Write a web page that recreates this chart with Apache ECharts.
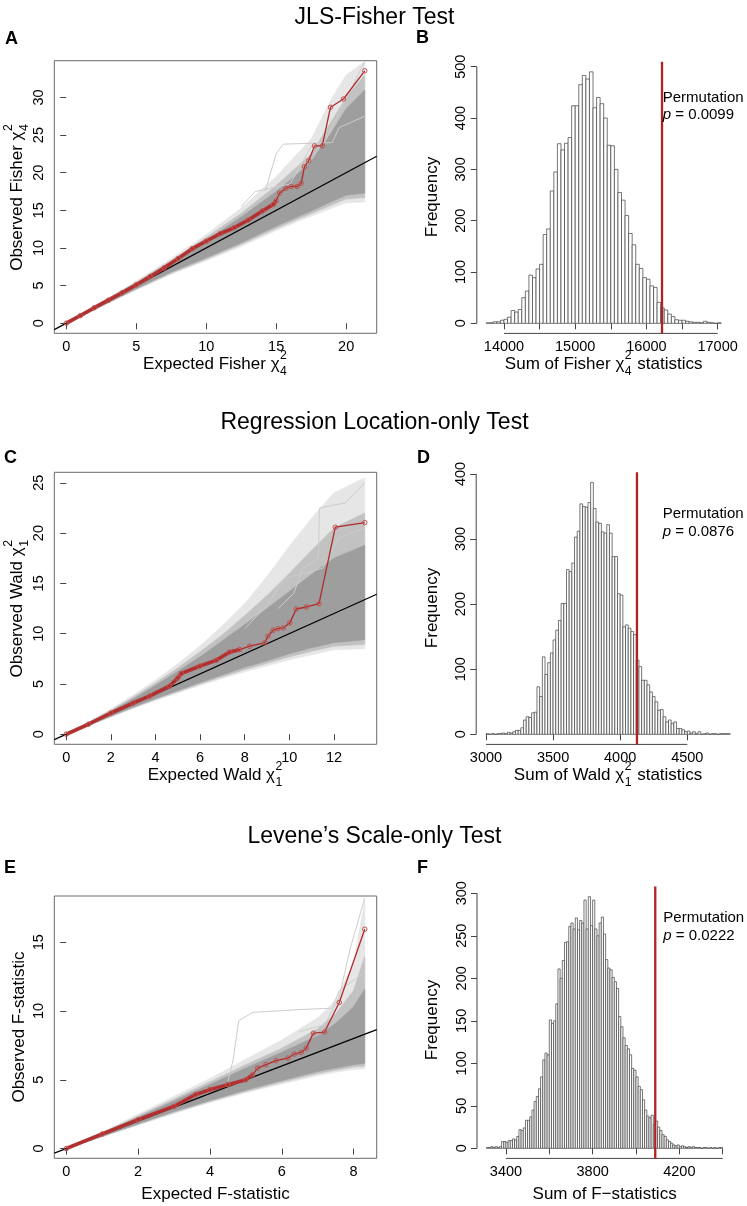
<!DOCTYPE html>
<html><head><meta charset="utf-8">
<script src="https://cdn.jsdelivr.net/npm/echarts@6/dist/echarts.min.js"></script>
<style>html,body{margin:0;padding:0;background:#fff}#c{width:747px;height:1206px}</style>
</head><body><div id="c"></div>
<script>
// ---------------- DATA ----------------
const titles = ['JLS-Fisher Test', 'Regression Location-only Test', 'Levene\u2019s Scale-only Test'];
const letters = ['A', 'B', 'C', 'D', 'E', 'F'];

// Panel A: observed QQ (red)
const qqA_x = [0, 1, 2, 3, 4, 5, 6, 7, 8, 9, 10, 11, 12, 13, 14, 14.8, 15.0, 15.25, 15.7, 16.07, 16.5, 16.79, 17.02, 17.33, 17.74, 18.29, 18.88, 19.81, 21.33];
const qqA_y = [0, 1.0, 2.05, 3.05, 4.05, 5.1, 6.2, 7.35, 8.6, 9.9, 10.9, 11.9, 12.7, 13.7, 14.9, 15.8, 16.3, 17.3, 17.94, 18.17, 18.17, 18.6, 20.8, 21.6, 23.57, 23.57, 28.7, 29.8, 33.55];
const qqA_denseN = 17;
// Panel A: permutation envelope (x, dense core, medium, outer)
const envA_x      = [0, 1, 2.5, 5, 7.5, 10, 12.5, 15, 16.5, 17.5, 19, 20, 21.33];
const envA_coreL  = [0, 0.9, 2.3, 4.6, 6.8, 8.7, 10.7, 12.9, 14.1, 14.9, 16.2, 17.0, 17.3];
const envA_coreH  = [0, 1.05, 2.65, 5.3, 8.1, 11.0, 14.1, 17.5, 19.8, 21.5, 25.5, 28.5, 31.0];
const envA_midL   = [0, 0.87, 2.25, 4.5, 6.65, 8.5, 10.45, 12.6, 13.8, 14.55, 15.75, 16.5, 16.7];
const envA_midH   = [0, 1.08, 2.72, 5.45, 8.35, 11.4, 14.6, 18.3, 20.8, 22.5, 27.0, 30.0, 33.0];
const envA_lightL = [0, 0.85, 2.2, 4.4, 6.5, 8.3, 10.2, 12.3, 13.5, 14.2, 15.3, 16.0, 16.1];
const envA_lightH = [0, 1.1, 2.8, 5.6, 8.6, 11.8, 15.3, 19.5, 22.5, 24.5, 30.0, 33.0, 34.8];
const strayA1_x = [14.2, 15, 15.5, 19, 19.5, 21.33];
const strayA1_y = [17.5, 22.5, 23.8, 24.0, 26, 27.5];
const strayA2_x = [12.5, 13.5, 16, 17.5, 18.5, 21.33];
const strayA2_y = [15.5, 17.5, 18.5, 23.5, 24.2, 34.8];

// Panel C
const qqC_x = [0, 1, 2, 3, 3.74, 4.63, 5.0, 5.16, 5.98, 6.73, 7.32, 7.77, 8.22, 8.89, 9.04, 9.27, 9.49, 9.72, 10.02, 10.31, 10.76, 11.33, 12.06, 13.38];
const qqC_y = [0, 1.0, 2.1, 3.1, 3.8, 4.79, 5.6, 6.04, 6.77, 7.36, 8.16, 8.42, 8.75, 9.08, 9.74, 10.34, 10.5, 10.57, 11.07, 12.45, 12.65, 12.98, 20.58, 21.04];
const qqC_denseN = 12;
const envC_x      = [0, 1, 2, 3, 4, 5, 6, 7, 8, 9, 10, 11, 12, 13.38];
const envC_coreL  = [0, 0.88, 1.8, 2.7, 3.55, 4.35, 5.15, 5.9, 6.65, 7.3, 8.0, 8.6, 9.1, 9.4];
const envC_coreH  = [0, 1.1, 2.27, 3.5, 4.85, 6.25, 7.7, 9.3, 10.9, 12.5, 14.2, 15.9, 17.5, 18.8];
const envC_midL   = [0, 0.86, 1.75, 2.62, 3.45, 4.22, 5.0, 5.72, 6.42, 7.05, 7.7, 8.25, 8.75, 8.95];
const envC_midH   = [0, 1.18, 2.38, 3.7, 5.1, 6.6, 8.2, 9.9, 11.8, 13.8, 16.0, 18.3, 20.5, 22.0];
const envC_lightL = [0, 0.85, 1.7, 2.55, 3.35, 4.1, 4.85, 5.55, 6.2, 6.8, 7.4, 7.9, 8.4, 8.5];
const envC_lightH = [0, 1.25, 2.5, 3.9, 5.4, 7.0, 8.8, 10.8, 13.0, 15.7, 18.7, 21.5, 24.0, 25.5];
const strayC1_x = [9.5, 10.2, 10.6, 11.3, 11.35, 12.5, 13.38];
const strayC1_y = [12.5, 14, 16.5, 17.5, 22.5, 23, 25.0];
const strayC2_x = [8, 9, 9.8, 11.5, 12.2, 13.38];
const strayC2_y = [10.5, 12.8, 15.5, 16.5, 19.5, 20.5];

// Panel E
const qqE_x = [0, 1, 2, 3, 3.6, 4, 4.5, 5, 5.19, 5.33, 5.56, 5.84, 6.17, 6.35, 6.54, 6.68, 6.88, 7.19, 7.6, 8.31];
const qqE_y = [0, 1.06, 2.1, 3.07, 3.92, 4.28, 4.64, 5.0, 5.37, 5.85, 6.1, 6.39, 6.58, 6.87, 6.99, 7.3, 8.39, 8.47, 10.62, 15.94];
const qqE_denseN = 9;
const envE_x      = [0, 1, 2, 3, 4, 5, 6, 7, 7.5, 8, 8.31];
const envE_coreL  = [0, 0.9, 1.8, 2.7, 3.5, 4.25, 4.95, 5.6, 5.85, 6.1, 6.2];
const envE_coreH  = [0, 1.1, 2.27, 3.45, 4.65, 5.85, 7.0, 8.2, 9.1, 10.3, 11.6];
const envE_midL   = [0, 0.87, 1.75, 2.62, 3.42, 4.15, 4.82, 5.45, 5.7, 5.92, 6.0];
const envE_midH   = [0, 1.15, 2.38, 3.6, 4.85, 6.1, 7.3, 8.7, 9.8, 11.5, 14.0];
const envE_lightL = [0, 0.85, 1.7, 2.55, 3.35, 4.05, 4.7, 5.3, 5.55, 5.75, 5.8];
const envE_lightH = [0, 1.2, 2.5, 3.8, 5.1, 6.5, 7.9, 9.5, 10.8, 13.5, 18.0];
const strayE1_x = [4.5, 4.65, 4.8, 5.2, 6.5, 7.4, 7.6, 8.31];
const strayE1_y = [4.9, 6.5, 9.3, 9.9, 10.1, 10.2, 11.5, 12.8];
const strayE2_x = [6.5, 7.2, 7.6, 7.9, 8.31];
const strayE2_y = [8.5, 9.0, 11.0, 14.5, 18.2];

// Histograms: first break, bin width, counts
const histB_start = 13750, histB_width = 50;
const histB = [1,1,3,3,6,8,12,25,22,27, 50,63,94,89,106,115,173,184,258,295, 350,338,351,362,424,424,465,483,476,490, 420,440,428,400,347,346,300,255,240,210, 175,153,115,107,89,86,73,70,41,30, 26,18,13,7,6,6,4,3,2,2, 1,4,2,1,0,1];
const histD_start = 3000, histD_width = 20;
const histD = [1,0,1,0,1,1,2,1,3,2, 4,6,6,10,22,27,26,33,34,73, 58,119,92,110,125,145,160,175,201,201, 253,250,263,303,312,354,350,349,356,387, 347,326,324,311,309,322,309,273,273,216, 214,165,168,163,158,153,114,104,83,83, 76,65,58,50,37,38,27,19,22,17, 19,9,9,7,4,5,2,4,1,4, 0,1,2,0,1,1,0,1,1,1,1];
const histF_start = 3310, histF_width = 10;
const histF = [1,1,2,1,2,1,2,8,8,7, 9,9,11,10,14,22,21,24,33,33, 37,45,55,61,70,84,104,112,110,151, 147,150,170,211,200,221,242,243,261,265, 258,271,257,268,265,292,258,296,262,292, 258,250,265,272,252,222,212,210,201,196, 188,155,143,130,121,117,110,94,92,84, 73,69,57,45,38,36,39,28,32,25, 21,16,14,10,8,6,4,3,4,2, 3,2,1,2,1,2,1,1,1,0, 1,1,0,1,0,1,0,1,1];

// Observed sums (red vertical lines) and p-values
const obsB = 16219, obsD = 4125, obsF = 4089;
const pB = '0.0099', pD = '0.0876', pF = '0.0222';

// Tick values
const ticksA_x = [0, 5, 10, 15, 20], ticksA_y = [0, 5, 10, 15, 20, 25, 30];
const ticksC_x = [0, 2, 4, 6, 8, 10, 12], ticksC_y = [0, 5, 10, 15, 20, 25];
const ticksE_x = [0, 2, 4, 6, 8], ticksE_y = [0, 5, 10, 15];
const ticksB_x = [14000, 14500, 15000, 15500, 16000, 16500, 17000], labelsB_x = [14000, 15000, 16000, 17000];
const ticksB_y = [0, 100, 200, 300, 400, 500];
const ticksD_x = [3000, 3500, 4000, 4500], labelsD_x = [3000, 3500, 4000, 4500];
const ticksD_y = [0, 100, 200, 300, 400];
const ticksF_x = [3400, 3600, 3800, 4000, 4200, 4400], labelsF_x = [3400, 3800, 4200];
const ticksF_y = [0, 50, 100, 150, 200, 250, 300];

// ---------------- BUILD ----------------
const FONT = '"Liberation Sans", Arial, Helvetica, sans-serif';
const RED = '#b22222';
const AXC = '#444';
function rlim(lo, hi) { const d = (hi - lo) * 0.04; return [lo - d, hi + d]; }
const zip = (a, b) => a.map((v, i) => [v, b[i]]);

const grids = [
  {left: 54.3, top: 60.7, width: 322.4, height: 272.6},   // A
  {left: 476.8, top: 61.8, width: 253.8, height: 271.6},  // B
  {left: 54.3, top: 472.3, width: 322.4, height: 272},    // C
  {left: 476.2, top: 472.3, width: 263.8, height: 272.1}, // D
  {left: 54.3, top: 896, width: 322.4, height: 262.3},    // E
  {left: 477, top: 886.6, width: 255.1, height: 271.8}    // F
];
const qqGrid = g => Object.assign({show: true, borderColor: '#6a6a6a', borderWidth: 1, backgroundColor: 'transparent', containLabel: false}, g);
const histGrid = g => Object.assign({show: false, containLabel: false}, g);

const xAxes = [], yAxes = [], series = [];
function axisCommon(lim, ticks, labels, isY) {
  return {
    type: 'value', min: lim[0], max: lim[1], scale: true,
    axisLine: {show: false},
    splitLine: {show: false},
    axisTick: {show: true, length: 6, customValues: ticks, lineStyle: {color: AXC, width: 1}},
    axisLabel: {customValues: labels, color: '#000', fontSize: 14.5, fontFamily: FONT,
      margin: isY ? 8 : 6, rotate: isY ? 90 : 0, formatter: v => String(v)}
  };
}
function band(g, xs, lo, hi, color) {
  return {type: 'custom', xAxisIndex: g, yAxisIndex: g, silent: true, clip: true, z: 1,
    data: xs.map((x, i) => [x, lo[i], hi[i]]),
    renderItem: function (params, api) {
      if (params.dataIndex !== 0) return null;
      const pts = [];
      for (let i = 0; i < xs.length; i++) pts.push(api.coord([xs[i], hi[i]]));
      for (let i = xs.length - 1; i >= 0; i--) pts.push(api.coord([xs[i], lo[i]]));
      return {type: 'polygon', shape: {points: pts}, style: {fill: color, stroke: color, lineWidth: 0.6}};
    }};
}
function line(g, data, color, width, z, extra) {
  return Object.assign({type: 'line', xAxisIndex: g, yAxisIndex: g, data: data, silent: true, animation: false,
    showSymbol: false, symbol: 'none', lineStyle: {color: color, width: width}, itemStyle: {color: color}, z: z || 2}, extra || {});
}
function qqPanel(g, xs, ys, denseN, env, strays, xlim, ylim, tx, ty) {
  xAxes.push(Object.assign(axisCommon(xlim, tx, tx, false), {gridIndex: g, position: 'bottom'}));
  yAxes.push(Object.assign(axisCommon(ylim, ty, ty, true), {gridIndex: g, position: 'left'}));
  series.push(band(g, env[0], env[5], env[6], '#e6e6e6'));
  strays.forEach(s => series.push(line(g, zip(s[0], s[1]), '#cdcdcd', 1, 2)));
  series.push(band(g, env[0], env[3], env[4], '#c2c2c2'));
  series.push(band(g, env[0], env[1], env[2], '#9e9e9e'));
  series.push(line(g, [[xlim[0], xlim[0]], [xlim[1], xlim[1]]], '#000', 1.2, 3));
  series.push(line(g, zip(xs.slice(0, denseN), ys.slice(0, denseN)), '#b23a3a', 3.8, 4));
  series.push(line(g, zip(xs, ys), '#b22a2a', 1.3, 5, {showSymbol: true, symbol: 'circle', symbolSize: 4.5,
    itemStyle: {color: 'rgba(255,255,255,0)', borderColor: '#c0504d', borderWidth: 1}}));
}
function histPanel(g, start, width, counts, obs, tx, lx, ty) {
  const nb = counts.length;
  const xlim = rlim(start, start + nb * width);
  const ylim = rlim(0, Math.max.apply(null, counts));
  xAxes.push(Object.assign(axisCommon(xlim, tx, lx, false), {gridIndex: g, position: 'bottom'}));
  yAxes.push(Object.assign(axisCommon(ylim, ty, ty, true), {gridIndex: g, position: 'left'}));
  series.push({type: 'custom', xAxisIndex: g, yAxisIndex: g, silent: true, z: 2,
    data: counts.map((c, i) => [start + i * width, start + (i + 1) * width, c]),
    encode: {x: [0, 1], y: 2},
    renderItem: function (params, api) {
      const p0 = api.coord([api.value(0), api.value(2)]);
      const p1 = api.coord([api.value(1), 0]);
      return {type: 'rect', shape: {x: p0[0], y: p0[1], width: p1[0] - p0[0], height: p1[1] - p0[1]},
        style: {fill: '#fff', stroke: '#4a4a4a', lineWidth: 0.75}};
    }});
  // R-style axis lines spanning first..last tick
  series.push(line(g, [[tx[0], ylim[0]], [tx[tx.length - 1], ylim[0]]], AXC, 1, 3, {clip: false}));
  series.push(line(g, [[xlim[0], ty[0]], [xlim[0], ty[ty.length - 1]]], AXC, 1, 3, {clip: false}));
  // observed statistic
  series.push(line(g, [[obs, ylim[0]], [obs, ylim[1]]], RED, 2.3, 6, {clip: false}));
}

qqPanel(0, qqA_x, qqA_y, qqA_denseN, [envA_x, envA_coreL, envA_coreH, envA_midL, envA_midH, envA_lightL, envA_lightH],
  [[strayA1_x, strayA1_y], [strayA2_x, strayA2_y]], rlim(0, 21.33), rlim(0, 33.55), ticksA_x, ticksA_y);
histPanel(1, histB_start, histB_width, histB, obsB, ticksB_x, labelsB_x, ticksB_y);
qqPanel(2, qqC_x, qqC_y, qqC_denseN, [envC_x, envC_coreL, envC_coreH, envC_midL, envC_midH, envC_lightL, envC_lightH],
  [[strayC1_x, strayC1_y], [strayC2_x, strayC2_y]], rlim(0, 13.38), rlim(0, 25.04), ticksC_x, ticksC_y);
histPanel(3, histD_start, histD_width, histD, obsD, ticksD_x, labelsD_x, ticksD_y);
qqPanel(4, qqE_x, qqE_y, qqE_denseN, [envE_x, envE_coreL, envE_coreH, envE_midL, envE_midH, envE_lightL, envE_lightH],
  [[strayE1_x, strayE1_y], [strayE2_x, strayE2_y]], rlim(0, 8.31), rlim(0, 17.65), ticksE_x, ticksE_y);
histPanel(5, histF_start, histF_width, histF, obsF, ticksF_x, labelsF_x, ticksF_y);

// ---------------- TEXT ----------------
const cv = document.createElement('canvas').getContext('2d');
function tw(t, size) { cv.font = size + 'px ' + FONT; return cv.measureText(t).width; }
function txt(x, y, text, size, opts) {
  opts = opts || {};
  return {type: 'text', x: x, y: y, z: 100, silent: true,
    style: Object.assign({text: text, fontSize: size, fontFamily: FONT, fill: '#000',
      textAlign: opts.align || 'left', align: opts.align || 'left',
      textVerticalAlign: 'middle', verticalAlign: 'middle',
      fontWeight: opts.bold ? 'bold' : 'normal'}, opts.style || {})};
}
function mathLabel(cx, cy, parts, size, rot) {
  const ss = size * 0.72;
  let w = 0; const items = [];
  parts.forEach(p => {
    if (p.t !== undefined) { items.push({x: w, t: p.t, s: size, dy: 0}); w += tw(p.t, size); }
    else {
      const a = tw(p.sup, ss), b = tw(p.sub, ss);
      items.push({x: w + 0.5, t: p.sup, s: ss, dy: -0.5 * size});
      items.push({x: w + 0.5, t: p.sub, s: ss, dy: 0.42 * size});
      w += Math.max(a, b) + 1.5;
    }
  });
  return {type: 'group', x: cx, y: cy, rotation: rot || 0, z: 100,
    children: items.map(it => txt(it.x - w / 2, it.dy, it.t, it.s))};
}
const CHI = '\u03c7';
const AX = 17;
const pRich = {rich: {i: {fontStyle: 'italic', fontSize: 15, fontFamily: FONT}}};
const graphics = [
  txt(374.5, 18, titles[0], 23, {align: 'center'}),
  txt(374.5, 423, titles[1], 23, {align: 'center'}),
  txt(374.5, 837, titles[2], 23, {align: 'center'}),
  txt(5, 39, letters[0], 18, {bold: true}),
  txt(416, 38, letters[1], 18, {bold: true}),
  txt(4, 458, letters[2], 18, {bold: true}),
  txt(417, 458, letters[3], 18, {bold: true}),
  txt(4, 868, letters[4], 18, {bold: true}),
  txt(417, 868, letters[5], 18, {bold: true}),
  // axis titles
  mathLabel(215.5, 364, [{t: 'Expected Fisher ' + CHI}, {sup: '2', sub: '4'}], AX),
  mathLabel(17, 197, [{t: 'Observed Fisher ' + CHI}, {sup: '2', sub: '4'}], AX, Math.PI / 2),
  mathLabel(603.7, 364, [{t: 'Sum of Fisher ' + CHI}, {sup: '2', sub: '4'}, {t: ' statistics'}], AX),
  mathLabel(432.5, 197, [{t: 'Frequency'}], AX, Math.PI / 2),
  mathLabel(215.5, 775, [{t: 'Expected Wald ' + CHI}, {sup: '2', sub: '1'}], AX),
  mathLabel(17, 608.3, [{t: 'Observed Wald ' + CHI}, {sup: '2', sub: '1'}], AX, Math.PI / 2),
  mathLabel(608.1, 775, [{t: 'Sum of Wald ' + CHI}, {sup: '2', sub: '1'}, {t: ' statistics'}], AX),
  mathLabel(432.5, 608, [{t: 'Frequency'}], AX, Math.PI / 2),
  txt(215.5, 1194, 'Expected F-statistic', AX, {align: 'center'}),
  mathLabel(19.5, 1027, [{t: 'Observed F-statistic'}], AX, Math.PI / 2),
  txt(604.6, 1194, 'Sum of F\u2212statistics', AX, {align: 'center'}),
  mathLabel(432.5, 1020, [{t: 'Frequency'}], AX, Math.PI / 2),
  // permutation annotations
  txt(662.7, 97.5, 'Permutation', 15), txt(662.7, 114.5, '{i|p} = ' + pB, 15, {style: pRich}),
  txt(662.7, 514, 'Permutation', 15), txt(662.7, 531.5, '{i|p} = ' + pD, 15, {style: pRich}),
  txt(663.3, 917.5, 'Permutation', 15), txt(663.3, 936, '{i|p} = ' + pF, 15, {style: pRich})
];

const chart = echarts.init(document.getElementById('c'), null, {renderer: 'canvas'});
chart.setOption({
  animation: false,
  backgroundColor: '#fff',
  grid: [qqGrid(grids[0]), histGrid(grids[1]), qqGrid(grids[2]), histGrid(grids[3]), qqGrid(grids[4]), histGrid(grids[5])],
  xAxis: xAxes,
  yAxis: yAxes,
  series: series,
  graphic: {elements: graphics}
});
</script></body></html>
